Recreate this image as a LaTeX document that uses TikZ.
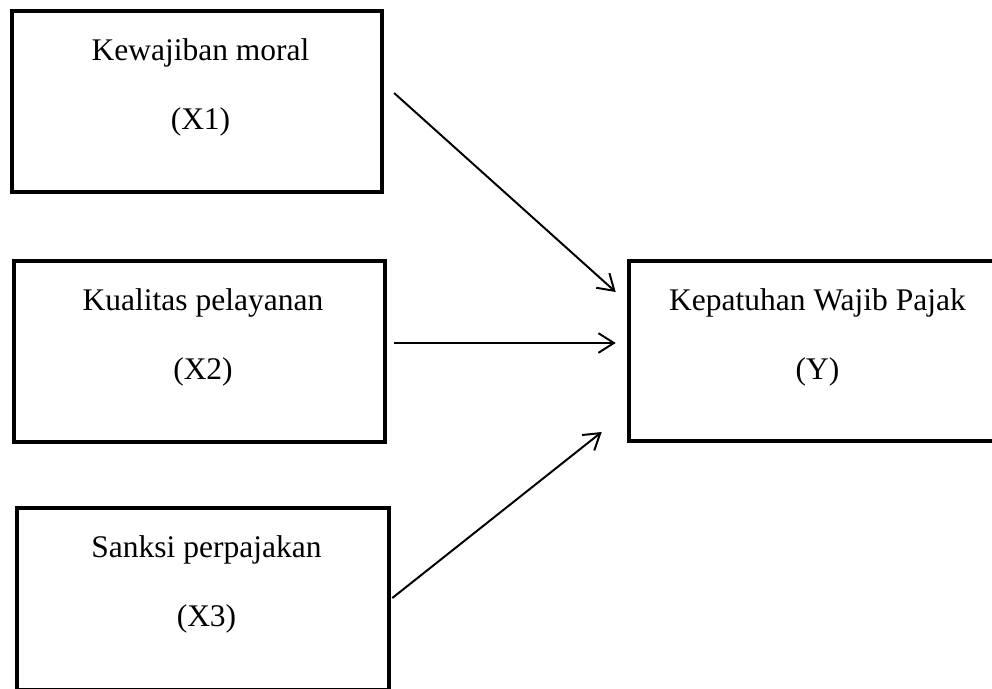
\documentclass[tikz,border=0pt]{standalone}
\usepackage{fontspec}
\setmainfont{Liberation Serif}
\usepackage{tikz}
\usetikzlibrary{arrows.meta,positioning}

\begin{document}
\begin{tikzpicture}[
  x=0.025cm, y=-0.025cm,
  var/.style={draw,line width=3.2pt,minimum height=4.525cm,inner sep=0pt},
  lbl/.style={anchor=base,align=center,inner sep=0pt,font=\fontsize{22.4}{49}\selectfont},
  arr/.style={-{Straight Barb[length=11pt,width=14pt]},line width=1.4pt}
]
  \useasboundingbox (0,0) rectangle (992,689);

  \node[var,minimum width=9.24cm] (x1) at (197,101.5) {};
  \node[var,minimum width=9.275cm] (x2) at (199.5,351.5) {};
  \node[var,minimum width=9.3cm,minimum height=4.55cm] (x3) at (203,599) {};
  \node[var,minimum width=9.425cm,minimum height=4.5cm] (y) at (817.5,351) {};

  \node[lbl] (x1t) at ([shift={(3.5,121)}]x1.north) {Kewajiban moral\\(X1)};
  \node[lbl] (x2t) at ([shift={(3.5,121)}]x2.north) {Kualitas pelayanan\\(X2)};
  \node[lbl] (x3t) at ([shift={(3.5,121)}]x3.north) {Sanksi perpajakan\\(X3)};
  \node[lbl] (yt) at ([shift={(0,121)}]y.north) {Kepatuhan Wajib Pajak\\(Y)};

  \draw[arr] ([shift={(10,-8.5)}]x1.east) -- ([shift={(-11,-59)}]y.west);
  \draw[arr] ([shift={(7,-8.5)}]x2.east) -- ([shift={(-11,-8)}]y.west);
  \draw[arr] ([shift={(1,-1)}]x3.east) -- ([shift={(-25,81)}]y.west);
\end{tikzpicture}
\end{document}
